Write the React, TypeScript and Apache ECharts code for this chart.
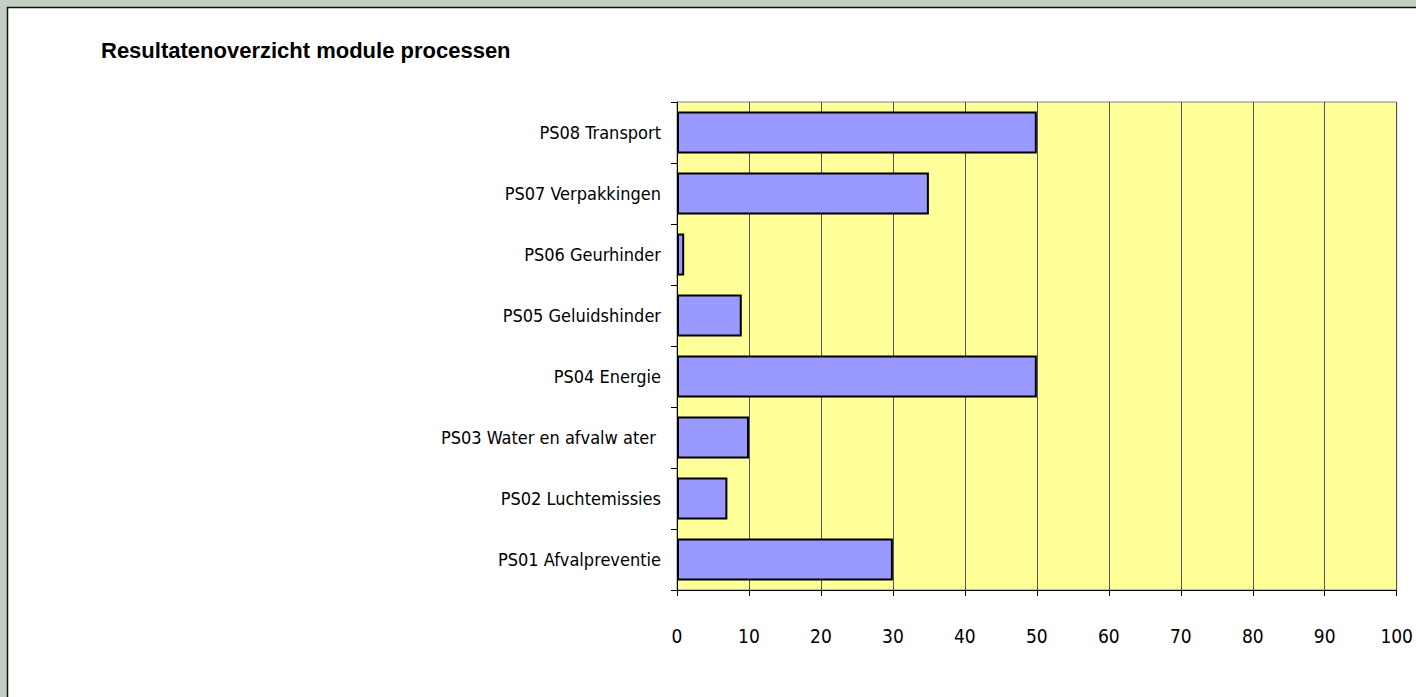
import React, { useEffect, useRef } from "react";
import * as echarts from "echarts";

const categories = [
  "PS01 Afvalpreventie",
  "PS02 Luchtemissies",
  "PS03 Water en afvalw ater ",
  "PS04 Energie",
  "PS05 Geluidshinder",
  "PS06 Geurhinder",
  "PS07 Verpakkingen",
  "PS08 Transport",
];
const values = [30, 7, 10, 50, 9, 1, 35, 50];
const title = "Resultatenoverzicht module processen";

const FONT = "'Liberation Sans Narrow', 'DejaVu Sans Condensed', 'Liberation Sans', Arial, sans-serif";
const TFONT = "'Liberation Sans', Arial, sans-serif";

export default function App() {
  const ref = useRef<HTMLDivElement>(null);
  useEffect(() => {
    if (!ref.current) return;
    const chart = echarts.init(ref.current, null, { renderer: "svg" });
    chart.setOption({
      animation: false,
      backgroundColor: "#ffffff",
      title: {
        text: title,
        left: 96,
        top: 34,
        textStyle: { fontFamily: TFONT, fontSize: 22, fontWeight: "bold", color: "#000" },
      },
      graphic: [
        { type: "rect", shape: { x: 0, y: 0, width: 1416, height: 7 }, style: { fill: "#c3cfc5" }, z: 100 },
        { type: "rect", shape: { x: 0, y: 0, width: 7, height: 697 }, style: { fill: "#c3cfc5" }, z: 100 },
        { type: "line", shape: { x1: 7, y1: 7.5, x2: 1416, y2: 7.5 }, style: { stroke: "#111", lineWidth: 1.5 }, z: 100 },
        { type: "line", shape: { x1: 7.5, y1: 7, x2: 7.5, y2: 697 }, style: { stroke: "#111", lineWidth: 1.5 }, z: 100 },
      ],
      grid: {
        left: 677,
        right: 19,
        top: 102,
        bottom: 107,
        show: true,
        backgroundColor: "#ffff99",
        borderColor: "#808080",
        borderWidth: 1,
        containLabel: false,
      },
      xAxis: {
        type: "value",
        min: 0,
        max: 100,
        interval: 10,
        axisLine: { show: true, lineStyle: { color: "#000", width: 1 } },
        axisTick: { show: true, length: 6, lineStyle: { color: "#000" } },
        axisLabel: { margin: 36, fontFamily: FONT, fontSize: 19, color: "#000" },
        splitLine: { show: true, lineStyle: { color: "#555", width: 1 } },
      },
      yAxis: {
        type: "category",
        data: categories,
        axisLine: { show: true, lineStyle: { color: "#000", width: 1 } },
        axisTick: { show: true, length: 6, lineStyle: { color: "#000" } },
        axisLabel: { margin: 16, fontFamily: FONT, fontSize: 18, color: "#000" },
        splitLine: { show: false },
      },
      series: [
        {
          type: "bar",
          data: values,
          barCategoryGap: "31%",
          itemStyle: { color: "#9999ff", borderColor: "#000", borderWidth: 2 },
        },
      ],
    });
    return () => chart.dispose();
  }, []);
  return (
    <div
      ref={ref}
      style={{ position: "fixed", left: 0, top: 0, width: 1416, height: 697 }}
    />
  );
}
